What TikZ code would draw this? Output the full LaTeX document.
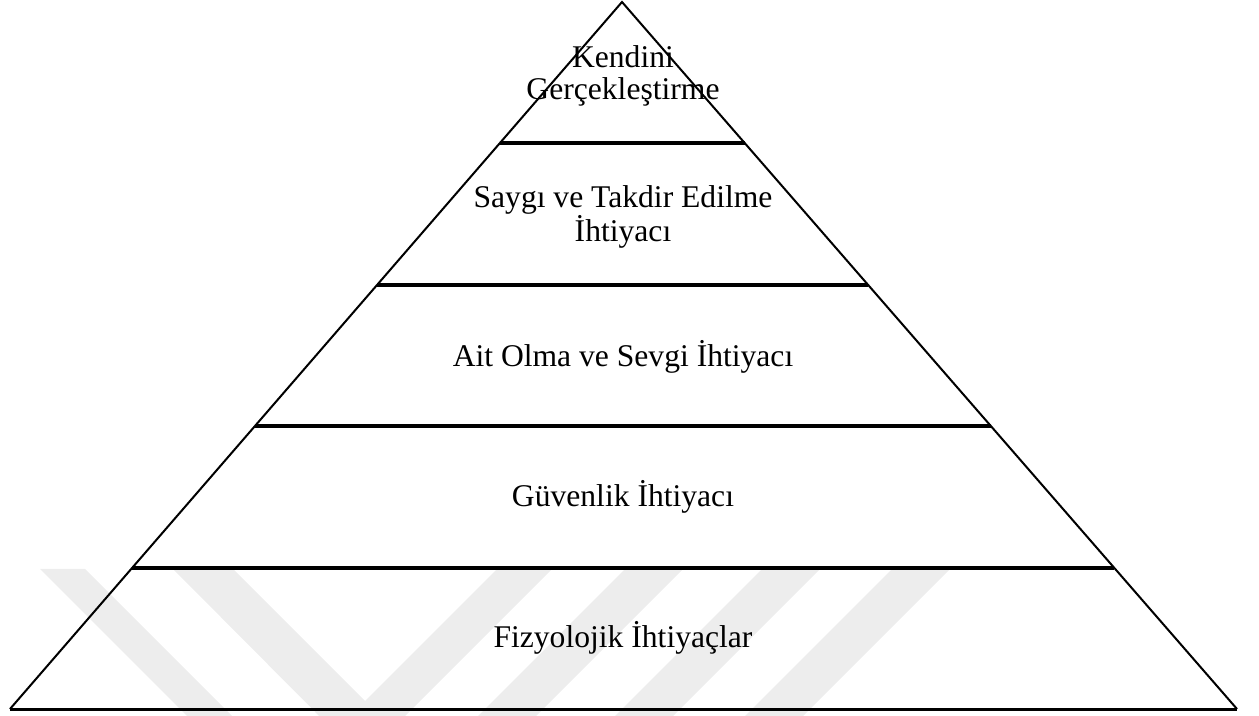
\documentclass[tikz,border=0pt]{standalone}
\usepackage{fontspec}
\setmainfont{Liberation Serif}
\usetikzlibrary{calc}

\begin{document}
\begin{tikzpicture}[x=0.5pt, y=-0.5pt,
    side/.style={line width=1pt},
    level/.style={line width=2pt},
    tiertext/.style={font=\fontsize{15.8}{16.2}\selectfont, align=center,
      anchor=base, inner sep=0pt},
    wmark/.style={fill=black!7}]
  \useasboundingbox (0,0) rectangle (1259,716);
  % watermark behind the pyramid
  \begin{scope}
    \clip (0,569) rectangle (1259,716);
    \fill[wmark] (40,569) -- (85,569) -- (232,716) -- (187,716) -- cycle;
    \fill[wmark] (173,569) -- (233,569) -- (365,701) -- (497,569)
      -- (552,569) -- (362,759) -- cycle;
    \foreach \x in {625,762,892}
      \fill[wmark] (\x,569) -- (\x+58,569) -- (\x-89,716) -- (\x-147,716) -- cycle;
  \end{scope}
  % pyramid
  \coordinate (apex) at (622,2);
  \coordinate (bl) at (10,709);
  \coordinate (br) at (1237,709);
  \draw[side] (bl) -- (apex) -- (br);
  \draw[line width=1.5pt] (bl) -- (br);
  \foreach \t in {0.2,0.4,0.6,0.8}
    \draw[level] ($(bl)!\t!(apex)$) -- ($(br)!\t!(apex)$);
  % tiers (base = last line)
  \node[tiertext] (kendini) at (623,100) {Kendini\\Gerçekleştirme};
  \node[tiertext] (saygi) at (623,242) {Saygı ve Takdir Edilme\\İhtiyacı};
  \node[tiertext] (ait) at (623,367) {Ait Olma ve Sevgi İhtiyacı};
  \node[tiertext] (guvenlik) at (623,507) {Güvenlik İhtiyacı};
  \node[tiertext] (fizyolojik) at (623,647) {Fizyolojik İhtiyaçlar};
\end{tikzpicture}
\end{document}
